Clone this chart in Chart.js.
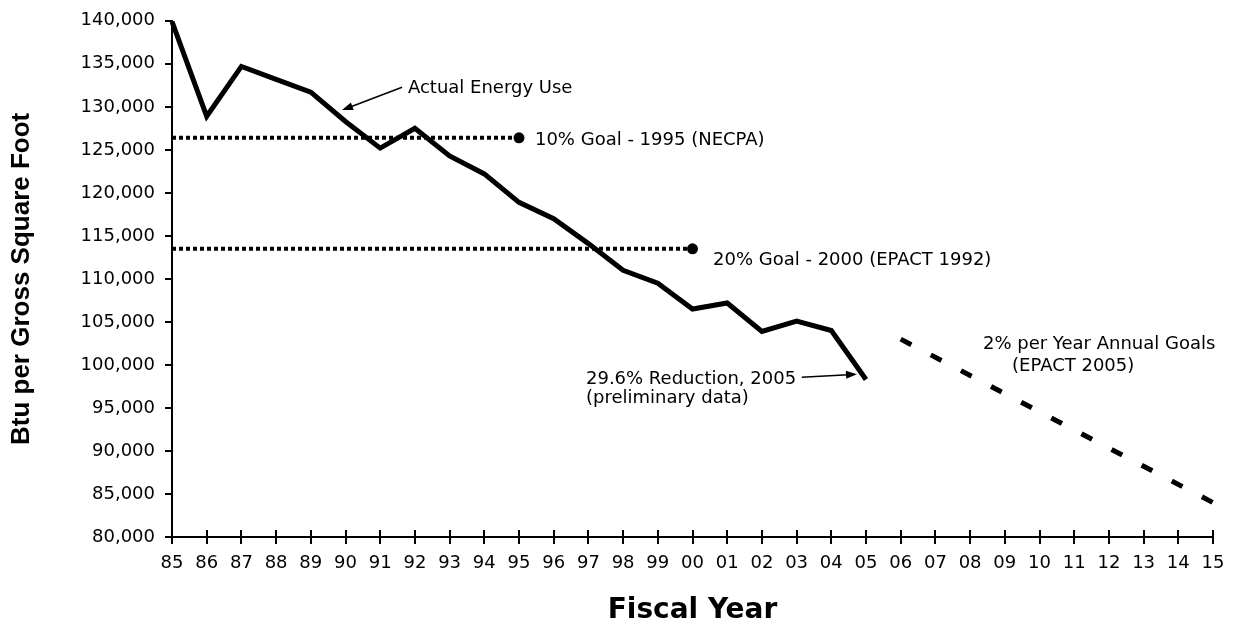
<!DOCTYPE html>
<html>
<head>
<meta charset="utf-8">
<script src="https://cdn.jsdelivr.net/npm/chart.js@4.4.1/dist/chart.umd.min.js"></script>
<style>
  html, body { margin: 0; padding: 0; background: #fff; }
  #wrap { width: 1236px; height: 628px; }
</style>
</head>
<body>
<div id="wrap"><canvas id="c" width="1236" height="628"></canvas></div>
<script>
// ── data ──
var YEARS = ['85', '86', '87', '88', '89', '90', '91', '92', '93', '94', '95', '96', '97', '98', '99',
             '00', '01', '02', '03', '04', '05', '06', '07', '08', '09', '10', '11', '12', '13', '14', '15'];
var ACTUAL = [139900, 128900, 134700, 133200, 131700, 128300, 125200, 127500, 124300, 122200, 118900,
              117000, 114100, 111000, 109500, 106500, 107200, 103900, 105100, 104000, 98300];
var GOAL_1995_YEARS = ['85', '95'];
var GOAL_1995_VALUE = 126400;
var GOAL_2000_YEARS = ['85', '00'];
var GOAL_2000_VALUE = 113500;
var EPACT05_YEARS = ['06', '15'];
var EPACT05_VALUES = [103000, 84000];
var Y_MIN = 80000, Y_MAX = 140000, Y_STEP = 5000;

// annotation anchors in data space: [year index, Btu value]
var NOTES = [
  { text: 'Actual Energy Use', at: [6.80, 132150] },
  { text: '10% Goal - 1995 (NECPA)', at: [10.46, 126150] },
  { text: '20% Goal - 2000 (EPACT 1992)', at: [15.59, 112190] },
  { text: '29.6% Reduction, 2005', at: [11.93, 98350] },
  { text: '(preliminary data)', at: [11.93, 96150] },
  { text: '2% per Year Annual Goals', at: [23.37, 102400] },
  { text: '(EPACT 2005)', at: [24.21, 99850] }
];
var ARROWS = [
  { from: [6.63, 132270], to: [4.90, 129620] },
  { from: [18.15, 98580], to: [19.74, 98920] }
];

function pair(xs, v) { return xs.map(function (x) { return { x: x, y: v }; }); }

var FONT = '"DejaVu Sans", Verdana, sans-serif';

// x ticks cross the axis, arrows and notes
var extras = {
  id: 'extras',
  afterDraw: function (chart) {
    var c = chart.ctx, xs = chart.scales.x, ys = chart.scales.y;
    var bottom = chart.chartArea.bottom;
    c.save();
    c.strokeStyle = '#000'; c.lineWidth = 2;
    xs.ticks.forEach(function (t, i) {
      var px = Math.round(xs.getPixelForTick(i));
      c.beginPath(); c.moveTo(px, bottom - 7); c.lineTo(px, bottom); c.stroke();
    });
    // arrows
    c.lineWidth = 1.5; c.fillStyle = '#000';
    ARROWS.forEach(function (a) {
      var x1 = xs.getPixelForValue(a.from[0]), y1 = ys.getPixelForValue(a.from[1]);
      var x2 = xs.getPixelForValue(a.to[0]), y2 = ys.getPixelForValue(a.to[1]);
      var ang = Math.atan2(y2 - y1, x2 - x1), L = 11, W = 4;
      c.beginPath(); c.moveTo(x1, y1); c.lineTo(x2 - Math.cos(ang) * L * 0.8, y2 - Math.sin(ang) * L * 0.8); c.stroke();
      c.beginPath();
      c.moveTo(x2, y2);
      c.lineTo(x2 - Math.cos(ang) * L - Math.sin(ang) * W, y2 - Math.sin(ang) * L + Math.cos(ang) * W);
      c.lineTo(x2 - Math.cos(ang) * L + Math.sin(ang) * W, y2 - Math.sin(ang) * L - Math.cos(ang) * W);
      c.closePath(); c.fill();
    });
    // notes
    c.font = '18px ' + FONT;
    c.textAlign = 'left'; c.textBaseline = 'middle';
    NOTES.forEach(function (n) {
      c.fillText(n.text, xs.getPixelForValue(n.at[0]), ys.getPixelForValue(n.at[1]));
    });
    c.restore();
  }
};

new Chart(document.getElementById('c').getContext('2d'), {
  type: 'line',
  data: {
    labels: YEARS,
    datasets: [
      { label: 'Actual Energy Use', data: ACTUAL, borderColor: '#000', borderWidth: 5, pointRadius: 0,
        tension: 0, borderJoinStyle: 'miter', borderCapStyle: 'butt' },
      { label: '10% Goal - 1995 (NECPA)', data: pair(GOAL_1995_YEARS, GOAL_1995_VALUE), borderColor: '#000',
        borderWidth: 4, borderDash: [4, 3], pointRadius: [0, 5.5], pointBackgroundColor: '#000', pointBorderWidth: 0 },
      { label: '20% Goal - 2000 (EPACT 1992)', data: pair(GOAL_2000_YEARS, GOAL_2000_VALUE), borderColor: '#000',
        borderWidth: 4, borderDash: [4, 3], pointRadius: [0, 5.5], pointBackgroundColor: '#000', pointBorderWidth: 0 },
      { label: '2% per Year Annual Goals', data: EPACT05_YEARS.map(function (y, i) { return { x: y, y: EPACT05_VALUES[i] }; }),
        borderColor: '#000', borderWidth: 5, borderDash: [12, 22], pointRadius: 0, borderCapStyle: 'butt' }
    ]
  },
  options: {
    responsive: false, animation: false, devicePixelRatio: 1,
    layout: { padding: { top: 17, right: 23, left: 0, bottom: 0 } },
    plugins: { legend: { display: false }, tooltip: { enabled: false } },
    scales: {
      x: {
        type: 'category', offset: false,
        grid: { drawOnChartArea: false, drawTicks: true, tickLength: 7, color: '#000', lineWidth: 2 },
        border: { color: '#000', width: 2 },
        ticks: { color: '#000', font: { family: FONT, size: 18 }, padding: 9, maxRotation: 0, autoSkip: false },
        title: { display: true, text: 'Fiscal Year', color: '#000',
                 font: { family: FONT, size: 28, weight: 'bold' }, padding: { top: 0, bottom: 0 } },
        afterFit: function (s) { s.height = 91; }
      },
      y: {
        min: Y_MIN, max: Y_MAX,
        grid: { drawOnChartArea: false, drawTicks: true, tickLength: 7, color: '#000', lineWidth: 2 },
        border: { color: '#000', width: 2 },
        ticks: { stepSize: Y_STEP, color: '#000', font: { family: FONT, size: 18 }, padding: 10,
                 callback: function (v) { return v.toLocaleString('en-US'); } },
        title: { display: true, text: 'Btu per Gross Square Foot', color: '#000',
                 font: { family: '"Liberation Sans", Arial, sans-serif', size: 26, weight: 'bold' },
                 padding: { top: 6, bottom: 0 } },
        afterFit: function (s) { s.width = 172; }
      }
    }
  },
  plugins: [extras]
});
</script>
</body>
</html>
